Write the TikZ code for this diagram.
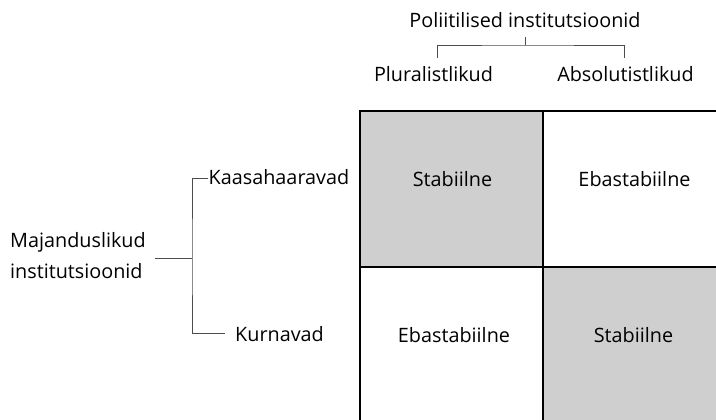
\documentclass[tikz,border=0pt]{standalone}
\usepackage{fontspec}
\setmainfont{Open Sans}
\begin{document}
\begin{tikzpicture}[x=1pt,y=-1pt,
  lbl/.style={inner sep=0pt,anchor=base,font=\fontsize{19.8}{24}\selectfont},
  lbll/.style={lbl,anchor=base west},
  brk/.style={draw=black!70,line width=0.9pt},
  grid/.style={draw=black,line width=1.4pt},
  shade/.style={fill=black!19}]
\useasboundingbox (0,0) rectangle (716,420);
% shaded cells
\fill[shade] (360,111) rectangle (543,267);
\fill[shade] (543,267) rectangle (716,420);
% grid
\draw[grid] (716,111) -- (360,111) -- (360,420);
\draw[grid] (543,111) -- (543,420);
\draw[grid] (360,267) -- (716,267);
% top labels
\node[lbl] (pol) at (525,28) {Poliitilised institutsioonid};
\node[lbl] (plu) at (433.5,82) {Pluralistlikud};
\node[lbl] (abs) at (625.5,82) {Absolutistlikud};
\coordinate (t0) at (525,37);
\coordinate (t1) at (525,45);
\coordinate (tl) at (437,58);
\coordinate (tr) at (624,58);
\draw[brk] (t0) -- (t1);
\draw[brk] (tl) |- (t1) -| (tr);
% left labels
\node[lbll] (maj) at (10,247) {Majanduslikud};
\node[lbll] (ins) at (10,278) {institutsioonid};
\node[lbll] (kaa) at (208.5,185) {Kaasahaaravad};
\node[lbll] (kur) at (235,341) {Kurnavad};
\coordinate (l0) at (155,258);
\coordinate (l1) at (192,258);
\coordinate (lk) at (208,178);
\coordinate (lu) at (225,333);
\draw[brk] (l0) -- (l1);
\draw[brk] (lk) -| (l1) |- (lu);
% cell labels
\node[lbl] (c11) at (452.5,186) {Stabiilne};
\node[lbl] (c12) at (634.5,186) {Ebastabiilne};
\node[lbl] (c21) at (454,342.7) {Ebastabiilne};
\node[lbl] (c22) at (633.5,342.7) {Stabiilne};
\end{tikzpicture}
\end{document}
